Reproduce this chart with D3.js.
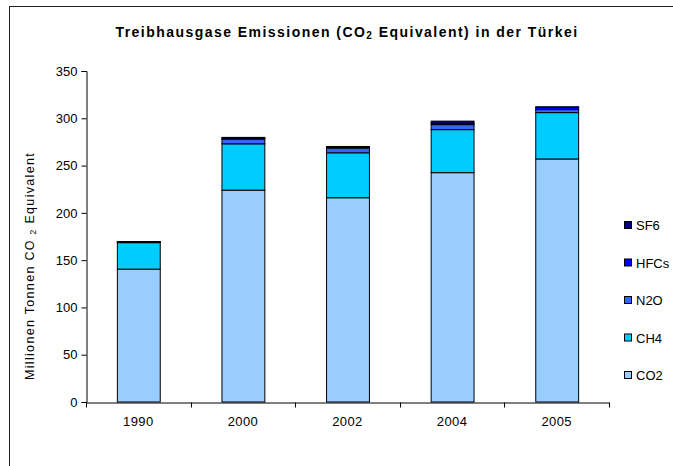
<!DOCTYPE html>
<meta charset="utf-8">
<style>
  body { margin: 0; background: #fff; }
  text { font-family: "Liberation Sans", Arial, sans-serif; }
</style>
<div id="chart"></div>
<script src="https://d3js.org/d3.v7.min.js"></script>
<script>

// values (Mio. t CO2 equivalent)
var years = ["1990", "2000", "2002", "2004", "2005"];
var gases = ["CO2", "CH4", "N2O", "HFCs", "SF6"];
var co2  = [140.5, 224, 216, 242.5, 257];
var ch4  = [28, 49, 47.5, 45.5, 49];
var n2o  = [0.8, 5, 5, 5.3, 3.2];
var hfcs = [0.2, 1, 1.2, 1.5, 2.2];
var sf6  = [0.2, 0.8, 0.5, 2.2, 0.8];
var yTicks = [0, 50, 100, 150, 200, 250, 300, 350];
var colors = ["#99ccff", "#00ccff", "#3366ff", "#0000ff", "#000080"];

var W = 673, H = 466;
var plot = {left: 86, right: 609, top: 71, bottom: 402};

var svg = d3.select("#chart").append("svg")
  .attr("width", W)
  .attr("height", H);

// outer frame (only left and top visible in the original)
svg.append("rect")
  .attr("x", 9.5).attr("y", 6.5)
  .attr("width", W + 20).attr("height", H + 20)
  .attr("fill", "none")
  .attr("stroke", "#222")
  .attr("stroke-width", 1);

var rows = years.map(function(y, i) {
  return {year: y, CO2: co2[i], CH4: ch4[i], N2O: n2o[i], HFCs: hfcs[i], SF6: sf6[i]};
});
var series = d3.stack().keys(gases)(rows);

var x = d3.scaleBand()
  .domain(years)
  .range([plot.left, plot.right])
  .paddingInner(0.59)
  .paddingOuter(0.295);

var y = d3.scaleLinear()
  .domain([0, 350])
  .range([plot.bottom, plot.top]);

var color = d3.scaleOrdinal().domain(gases).range(colors);

// bars
svg.append("g")
  .selectAll("g")
  .data(series)
  .enter().append("g")
    .attr("fill", function(d) { return color(d.key); })
  .selectAll("rect")
  .data(function(d) { return d; })
  .enter().append("rect")
    .attr("x", function(d) { return x(d.data.year) + 0.5; })
    .attr("y", function(d) { return y(d[1]); })
    .attr("width", x.bandwidth())
    .attr("height", function(d) { return Math.max(0, y(d[0]) - y(d[1])); })
    .attr("stroke", "#000")
    .attr("stroke-width", 1);

// y axis
var yAxis = svg.append("g")
  .attr("transform", "translate(" + (plot.left + 0.5) + ",0)")
  .call(d3.axisLeft(y).tickValues(yTicks).tickSize(5).tickPadding(4));
yAxis.selectAll("text").style("font-size", "13px").attr("fill", "#000");
yAxis.selectAll("line, path").attr("stroke", "#000");

// x axis: labels under the bars, ticks between categories
var xAxis = svg.append("g")
  .attr("transform", "translate(0," + (plot.bottom + 0.5) + ")")
  .call(d3.axisBottom(x).tickSize(0).tickPadding(14));
xAxis.selectAll("text").style("font-size", "13px").style("letter-spacing", "0.4px").attr("fill", "#000");
xAxis.select(".domain").attr("stroke", "#000");
var edges = years.map(function(d) { return x(d) - x.step() * x.paddingInner() / 2; });
edges.push(plot.right);
xAxis.selectAll(".edge")
  .data(edges)
  .enter().append("line")
    .attr("x1", function(d) { return Math.round(d) + 0.5; })
    .attr("x2", function(d) { return Math.round(d) + 0.5; })
    .attr("y1", 0).attr("y2", 5)
    .attr("stroke", "#000");

// legend
var legend = svg.append("g");
var legendItems = gases.slice().reverse();
legendItems.forEach(function(g, i) {
  var ly = 225 + i * 37.5;
  legend.append("rect")
    .attr("x", 624.5).attr("y", ly - 3.5)
    .attr("width", 7).attr("height", 7)
    .attr("fill", color(g))
    .attr("stroke", "#000");
  legend.append("text")
    .attr("x", 636).attr("y", ly + 5)
    .style("font-size", "13px")
    .text(g);
});

// spread a text so it covers a given length, like the original's loose Excel text
function spread(sel, target) {
  var n = sel.text().length;
  var w = sel.node().getComputedTextLength();
  sel.style("letter-spacing", Math.max(0, (target - w) / n) + "px");
}

// title
var title = svg.append("text")
  .attr("x", 347).attr("y", 37)
  .attr("text-anchor", "middle")
  .style("font-size", "14px")
  .style("font-weight", "bold");
title.append("tspan").text("Treibhausgase Emissionen (CO");
title.append("tspan").style("font-size", "10px").attr("dy", 2).text("2");
title.append("tspan").attr("dy", -2).text(" Equivalent) in der Türkei");
spread(title, 463);

// y axis title
var yTitle = svg.append("text")
  .attr("transform", "translate(34,266) rotate(-90)")
  .attr("text-anchor", "middle")
  .style("font-size", "12.5px");
yTitle.append("tspan").text("Millionen Tonnen CO ");
yTitle.append("tspan").style("font-size", "8.5px").attr("dy", 2).text("2");
yTitle.append("tspan").attr("dy", -2).text(" Equivalent");
spread(yTitle, 228);

</script>
